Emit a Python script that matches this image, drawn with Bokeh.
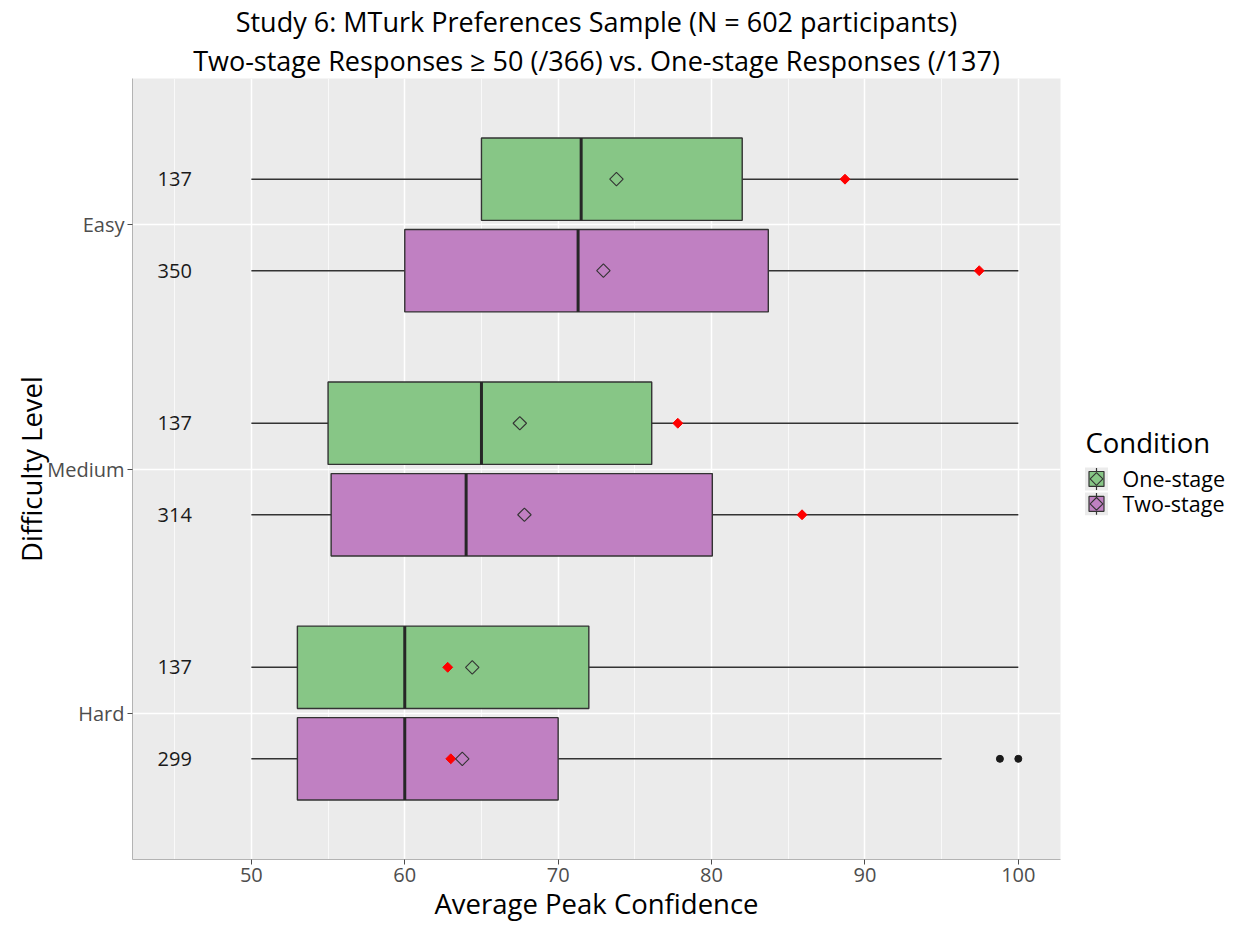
import math
from bokeh.plotting import figure
from bokeh.layouts import row
from bokeh.models import (FixedTicker, Range1d, ColumnDataSource, Title)
from bokeh.core.properties import value
from bokeh.embed import file_html
from bokeh.resources import INLINE

# ---- data ----
levels = ["Hard", "Medium", "Easy"]
conditions = ["One-stage", "Two-stage"]

one_lo = [50, 50, 50]
one_q1 = [53.0, 55.0, 65.0]
one_med = [60.0, 65.0, 71.5]
one_q3 = [72.0, 76.1, 82.0]
one_hi = [100, 100, 100]
one_mean = [64.4, 67.5, 73.8]
one_red = [62.8, 77.8, 88.7]
one_n = [137, 137, 137]

two_lo = [50, 50, 50]
two_q1 = [53.0, 55.2, 60.0]
two_med = [60.0, 64.0, 71.3]
two_q3 = [70.0, 80.05, 83.7]
two_hi = [95, 100, 100]
two_mean = [63.75, 67.8, 72.95]
two_red = [63.0, 85.9, 97.45]
two_n = [299, 314, 350]

outlier_level = ["Hard", "Hard"]
outlier_cond = ["Two-stage", "Two-stage"]
outlier_vals = [98.8, 100.0]

x_ticks = [50, 60, 70, 80, 90, 100]
x_minor = [45, 55, 65, 75, 85, 95]
label_x = 45

title_lines = ["Study 6: MTurk Preferences Sample (N = 602 participants)",
               "Two-stage Responses \u2265 50 (/366) vs. One-stage Responses (/137)"]
legend_title = "Condition"

# ---- styling ----
FONT = "Open Sans"
colors = {"One-stage": "#87C686", "Two-stage": "#C080C2"}
dodge = {"One-stage": 0.1875, "Two-stage": -0.1875}
box_h = 0.3375

p = figure(width=1075, height=931, title=None,
           output_backend="svg", toolbar_location=None,
           x_range=Range1d(42.25, 102.75), y_range=Range1d(0.4, 3.6),
           min_border_left=132, min_border_top=75, min_border_bottom=71,
           min_border_right=15)
p.background_fill_color = "#EBEBEB"
p.border_fill_color = "white"
p.outline_line_color = None

# titles: inner line first, then outer line
for txt in (title_lines[1], title_lines[0]):
    p.add_layout(Title(text=txt, align="center", text_font=FONT, text_font_size="27px",
                       text_font_style="normal", text_color="black", standoff=0), "above")

# axes
p.xaxis.ticker = FixedTicker(ticks=x_ticks, minor_ticks=x_minor)
p.yaxis.ticker = FixedTicker(ticks=[1, 2, 3], minor_ticks=[])
p.yaxis.major_label_overrides = {i + 1: lv for i, lv in enumerate(levels)}
for ax in (p.xaxis, p.yaxis):
    ax.axis_line_color = "#B3B3B3"
    ax.major_tick_line_color = "#4D4D4D"
    ax.major_tick_out = 5
    ax.major_tick_in = 0
    ax.minor_tick_line_color = None
    ax.major_label_text_font = FONT
    ax.major_label_text_font_size = "20px"
    ax.major_label_text_color = "#4D4D4D"
    ax.axis_label_text_font = FONT
    ax.axis_label_text_font_size = "27.5px"
    ax.axis_label_text_font_style = "normal"
    ax.axis_label_text_color = "black"
p.xaxis.axis_label = "Average Peak Confidence"
p.yaxis.axis_label = "Difficulty Level"
p.yaxis.major_label_standoff = 3
p.xaxis.major_label_standoff = 3
p.xaxis.axis_label_standoff = 0
p.yaxis.axis_label_standoff = -6

p.xgrid.grid_line_color = "white"
p.xgrid.grid_line_width = 1.5
p.xgrid.minor_grid_line_color = "white"
p.xgrid.minor_grid_line_width = 0.7
p.ygrid.grid_line_color = "white"
p.ygrid.grid_line_width = 1.5

series = {
    "One-stage": (one_lo, one_q1, one_med, one_q3, one_hi, one_mean, one_red, one_n),
    "Two-stage": (two_lo, two_q1, two_med, two_q3, two_hi, two_mean, two_red, two_n),
}

for cond in conditions:
    lo, q1, med, q3, hi, mean, red, n = series[cond]
    ys = [i + 1 + dodge[cond] for i in range(len(levels))]
    src = ColumnDataSource(dict(y=ys, lo=lo, q1=q1, med=med, q3=q3, hi=hi,
                                mean=mean, red=red, n=[str(v) for v in n],
                                lx=[label_x] * len(levels),
                                ytop=[y + box_h / 2 for y in ys],
                                ybot=[y - box_h / 2 for y in ys]))
    p.segment(x0="lo", y0="y", x1="q1", y1="y", source=src, line_color="#333333", line_width=1.4)
    p.segment(x0="q3", y0="y", x1="hi", y1="y", source=src, line_color="#333333", line_width=1.4)
    p.hbar(y="y", left="q1", right="q3", height=box_h, source=src,
           fill_color=colors[cond], line_color="#333333", line_width=1.4)
    p.segment(x0="med", y0="ybot", x1="med", y1="ytop", source=src,
              line_color="#262626", line_width=3)
    p.scatter(x="red", y="y", source=src, marker="square", angle=math.pi / 4, size=7,
              fill_color="red", line_color="red")
    p.scatter(x="mean", y="y", source=src, marker="square", angle=math.pi / 4,
              size=9.5, fill_color=None, line_color="#333333", line_width=1.1)
    p.text(x="lx", y="y", text="n", source=src, text_font=value(FONT),
           text_font_size="20px", text_align="center", text_baseline="middle",
           text_color="#1A1A1A")

oy = [levels.index(lv) + 1 + dodge[c] for lv, c in zip(outlier_level, outlier_cond)]
p.scatter(x=outlier_vals, y=oy, marker="circle", size=7, fill_color="#1A1A1A",
          line_color="#1A1A1A")

# ---- legend panel (separate figure; y in page pixels, downward) ----
LW, LH = 163, 931
lg = figure(width=LW, height=LH, output_backend="svg", toolbar_location=None,
            x_range=Range1d(0, LW), y_range=Range1d(859, 75),
            x_axis_type=None, y_axis_type=None, min_border=0,
            min_border_top=75, min_border_bottom=72)
lg.grid.visible = False
lg.outline_line_color = None
lg.background_fill_color = "white"
lg.border_fill_color = "white"

key_x = 21
rows_y = [477 + 25 * i for i in range(len(conditions))]
lg.text(x=[10], y=[440], text=[legend_title], text_font=value(FONT), text_font_size="27.5px",
        text_baseline="middle", text_color="black")
lg.rect(x=[key_x] * len(conditions), y=rows_y, width=23, height=23,
        fill_color="#EBEBEB", line_color=None)
lg.segment(x0=[key_x] * len(conditions), y0=[y - 11 for y in rows_y],
           x1=[key_x] * len(conditions), y1=[y + 11 for y in rows_y],
           line_color="#333333", line_width=1.2)
lg.rect(x=[key_x] * len(conditions), y=rows_y, width=15, height=15,
        fill_color=[colors[c] for c in conditions], line_color="#333333", line_width=1.2)
lg.scatter(x=[key_x] * len(conditions), y=rows_y, marker="square", angle=math.pi / 4,
           size=9, fill_color=None, line_color="#333333", line_width=1.1)
lg.text(x=[key_x + 26] * len(conditions), y=rows_y, text=conditions, text_font=value(FONT),
        text_font_size="21.5px", text_baseline="middle", text_color="black")

layout = row(p, lg, spacing=0)
open("out.html", "w").write(file_html(layout, INLINE))
